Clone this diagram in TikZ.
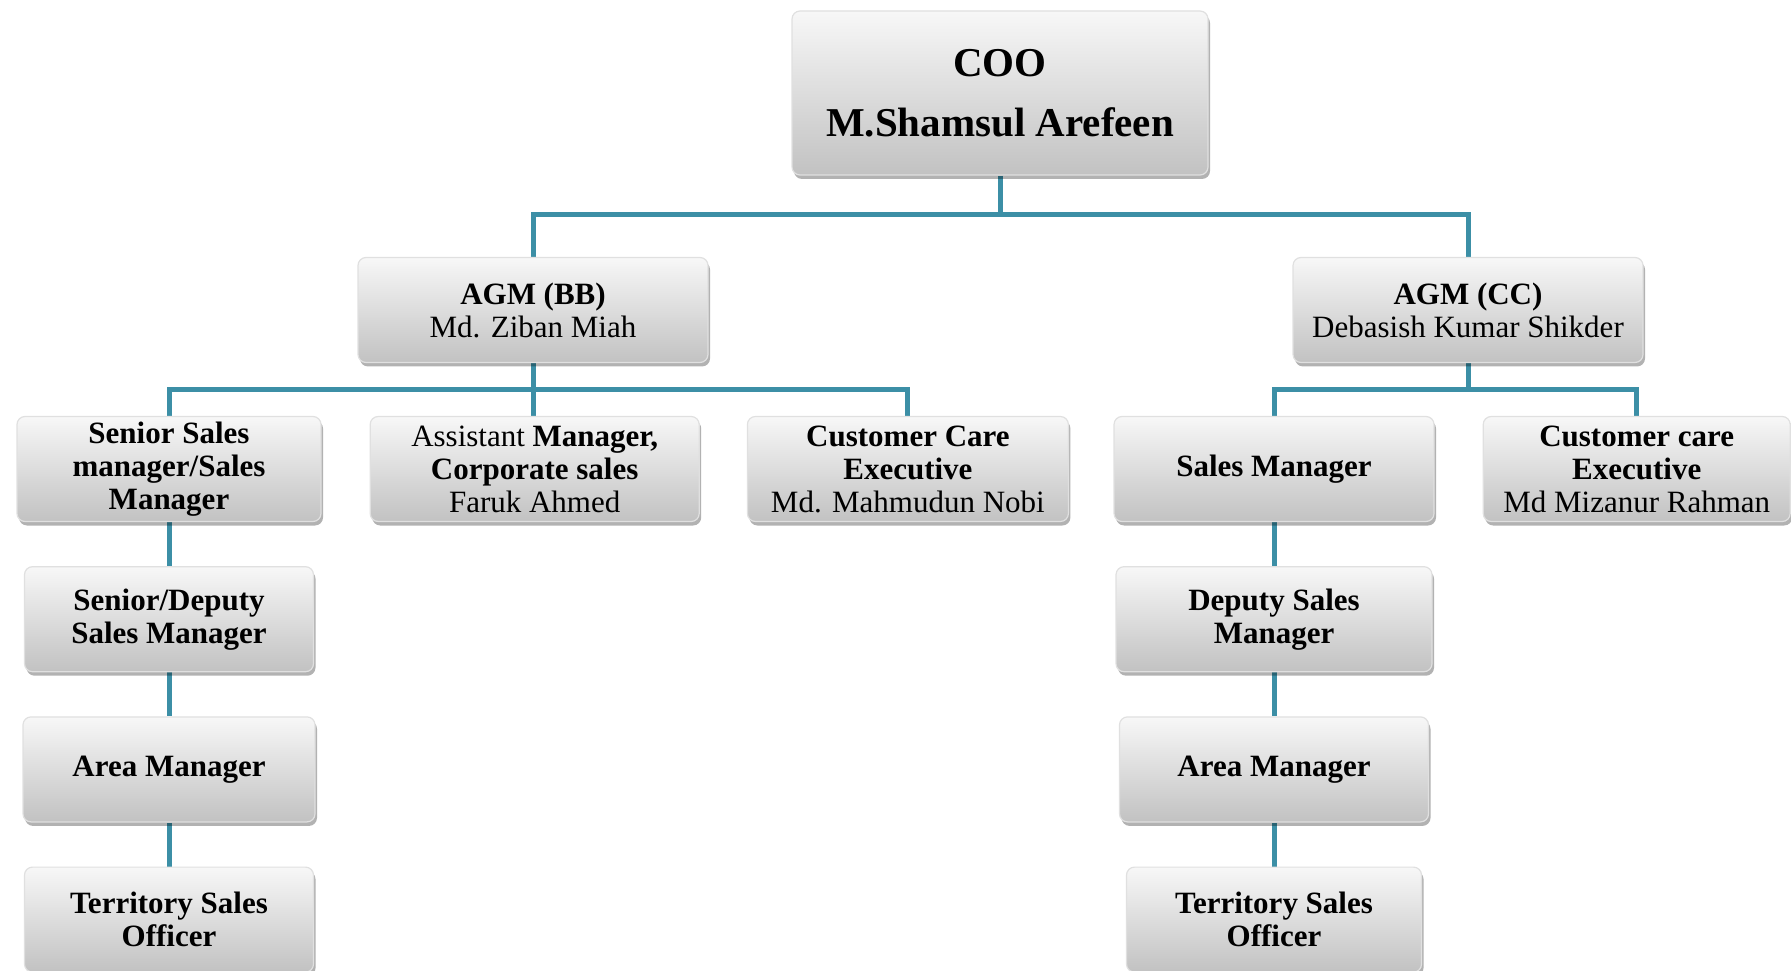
\documentclass[tikz,border=0pt]{standalone}
\usepackage{fontspec}
\setmainfont{Liberation Serif}
\usetikzlibrary{positioning, shadows, backgrounds}
\definecolor{linkblue}{RGB}{60,143,166}

\begin{document}
\begin{tikzpicture}[
  node distance=22pt and 24pt,
  box/.style={rectangle, rounded corners=4pt, draw=white!88!black, line width=0.6pt,
              top color=white!97!black, bottom color=black!24,
              minimum height=52.5pt, align=center, inner sep=2pt,
              font=\fontsize{15.5}{16.5}\selectfont,
              drop shadow={shadow xshift=1pt, shadow yshift=-2pt, opacity=0.3, fill=black}},
  topbox/.style={box, minimum width=208pt, minimum height=82pt,
                 font=\fontsize{20.5}{30}\selectfont\bfseries},
  link/.style={draw=linkblue, line width=2.5pt}
]
\useasboundingbox (0,0) rectangle (895.5pt,485pt);

\node[topbox] (coo) at (500pt,438.5pt) {COO\\M.Shamsul Arefeen};
\node[box, minimum width=175pt] (agmbb) at (266.5pt,330pt) {\textbf{AGM (BB)}\\Md. Ziban Miah};
\node[box, minimum width=175pt] (agmcc) at (734pt,330pt) {\textbf{AGM (CC)}\\Debasish Kumar Shikder};

% BB side
\node[box, minimum width=152pt] (ssm) at (84.5pt,250.5pt) {\textbf{Senior Sales}\\\textbf{manager/Sales}\\\textbf{Manager}};
\node[box, minimum width=164.5pt, right=of ssm] (asm) {Assistant \textbf{Manager,}\\\textbf{Corporate sales}\\Faruk Ahmed};
\node[box, minimum width=160.5pt, right=23.5pt of asm] (ccebb) {\textbf{Customer Care}\\\textbf{Executive}\\Md. Mahmudun Nobi};
\node[box, minimum width=144.5pt, below=of ssm] (sdsm) {\textbf{Senior/Deputy}\\\textbf{Sales Manager}};
\node[box, minimum width=146pt, below=of sdsm] (ambb) {\textbf{Area Manager}};
\node[box, minimum width=144.5pt, below=of ambb] (tsobb) {\textbf{Territory Sales}\\\textbf{Officer}};

% CC side
\node[box, minimum width=160pt] (sm) at (637pt,250.5pt) {\textbf{Sales Manager}};
\node[box, minimum width=153.5pt, right=of sm] (ccecc) {\textbf{Customer care}\\\textbf{Executive}\\Md Mizanur Rahman};
\node[box, minimum width=158pt, below=of sm] (dsm) {\textbf{Deputy Sales}\\\textbf{Manager}};
\node[box, minimum width=154.5pt, below=of dsm] (amcc) {\textbf{Area Manager}};
\node[box, minimum width=147.5pt, below=of amcc] (tsocc) {\textbf{Territory Sales}\\\textbf{Officer}};

\begin{scope}[on background layer]
\draw[link] (coo.south) -- ++(0,-19.5pt) -| (agmbb.north);
\draw[link] (coo.south) -- ++(0,-19.5pt) -| (agmcc.north);
\draw[link] (agmbb.south) -- ++(0,-13pt) -| (ssm.north);
\draw[link] (agmbb.south) -- (agmbb.south |- asm.north);
\draw[link] (agmbb.south) -- ++(0,-13pt) -| (ccebb.north);
\draw[link] (agmcc.south) -- ++(0,-13pt) -| (sm.north);
\draw[link] (agmcc.south) -- ++(0,-13pt) -| (ccecc.north);
\draw[link] (ssm) -- (sdsm);
\draw[link] (sdsm) -- (ambb);
\draw[link] (ambb) -- (tsobb);
\draw[link] (sm) -- (dsm);
\draw[link] (dsm) -- (amcc);
\draw[link] (amcc) -- (tsocc);
\end{scope}
\end{tikzpicture}
\end{document}
